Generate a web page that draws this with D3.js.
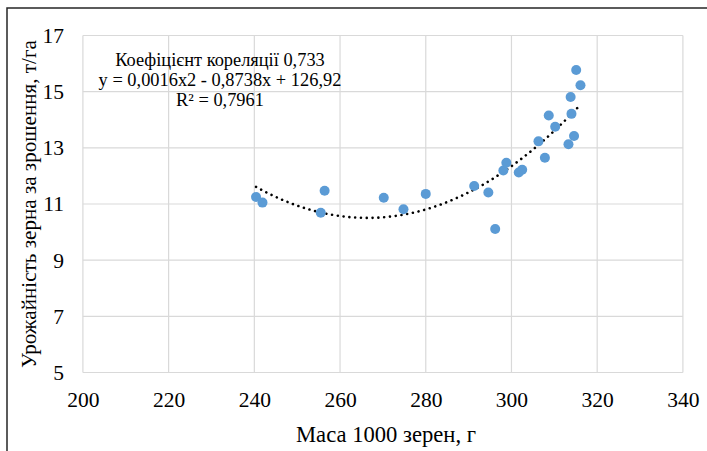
<!DOCTYPE html>
<html>
<head>
<meta charset="utf-8">
<script src="https://cdn.jsdelivr.net/npm/d3@7"></script>
<style>
html,body{margin:0;padding:0;background:#fff;}
svg{display:block;}
</style>
</head>
<body>
<svg id="chart" width="707" height="451"></svg>
<script>
// Data
const massX = [240.4, 241.9, 255.5, 256.4, 270.2, 274.8, 280.0, 291.3, 294.6, 296.2, 298.1, 298.8,
               301.7, 302.5, 306.3, 307.8, 308.7, 310.2, 313.3, 313.8, 314.0, 314.6, 315.1, 316.1];
const yieldY = [11.25, 11.05, 10.69, 11.47, 11.22, 10.81, 11.36, 11.64, 11.41, 10.11, 12.19, 12.47,
                12.12, 12.22, 13.23, 12.65, 14.15, 13.75, 13.13, 14.81, 14.21, 13.42, 15.77, 15.23];
const xTicks = [200, 220, 240, 260, 280, 300, 320, 340];
const yTicks = [5, 7, 9, 11, 13, 15, 17];
const annotationLines = ["Коефіцієнт кореляції 0,733", "y = 0,0016x2 - 0,8738x + 126,92", "R² = 0,7961"];
const xTitle = "Маса 1000 зерен, г";
const yTitle = "Урожайність зерна за зрошення, т/га";

(function () {
const FONT = "'Liberation Serif'";
const svg = d3.select("#chart");
const pLeft = 82.9, pRight = 682.9, pTop = 35.5, pBottom = 372.5;
const x = d3.scaleLinear().domain([200, 340]).range([pLeft, pRight]);
const y = d3.scaleLinear().domain([5, 17]).range([pBottom, pTop]);

// fit a text's font size so its rendered width matches a target width
function fitWidth(sel, target) {
  const node = sel.node();
  const w = node.getComputedTextLength();
  const fs = parseFloat(sel.style("font-size"));
  if (w > 0) sel.style("font-size", (fs * target / w).toFixed(2) + "px");
}

// outer chart border (top and left visible)
svg.append("path").attr("d", "M7,451 L7,8 L707,8").attr("fill", "none")
  .attr("stroke", "#262626").attr("stroke-width", 1.5);

// gridlines
const grid = svg.append("g").attr("stroke", "#d9d9d9").attr("stroke-width", 1.2);
grid.selectAll("line.v").data(xTicks).join("line").attr("class", "v")
  .attr("x1", d => x(d)).attr("x2", d => x(d)).attr("y1", pTop).attr("y2", pBottom);
grid.selectAll("line.h").data(yTicks).join("line").attr("class", "h")
  .attr("x1", pLeft).attr("x2", pRight).attr("y1", d => y(d)).attr("y2", d => y(d));

// axes labels via d3 axes
const xAxis = svg.append("g").attr("transform", `translate(0,${pBottom})`)
  .call(d3.axisBottom(x).tickValues(xTicks).tickSize(0).tickPadding(19).tickFormat(d3.format("d")));
const yAxis = svg.append("g").attr("transform", `translate(${pLeft},0)`)
  .call(d3.axisLeft(y).tickValues(yTicks).tickSize(0).tickPadding(19).tickFormat(d3.format("d")));
[xAxis, yAxis].forEach(a => {
  a.attr("font-family", null).attr("font-size", null);
  a.select(".domain").remove();
  a.selectAll("text").style("font-family", FONT).style("font-size", "21.5px").attr("fill", "#000");
});

// annotation
const ann = svg.append("g").selectAll("text").data(annotationLines).join("text")
  .attr("x", 220).attr("y", (d, i) => 65.5 + i * 20.3)
  .attr("text-anchor", "middle").style("font-family", FONT).style("font-size", "16px").text(d => d);
const eq = d3.select(ann.nodes()[1]);
fitWidth(eq, 243);
ann.style("font-size", eq.style("font-size"));

// quadratic least-squares trendline computed from data
function polyfit2(xs, ys) {
  const n = xs.length;
  const xm = d3.mean(xs);
  const S = [[0,0,0],[0,0,0],[0,0,0]], B = [0,0,0];
  for (let i = 0; i < n; i++) {
    const t = xs[i] - xm, p = [1, t, t * t];
    for (let r = 0; r < 3; r++) { B[r] += p[r] * ys[i]; for (let c = 0; c < 3; c++) S[r][c] += p[r] * p[c]; }
  }
  const M = S.map((row, r) => row.concat([B[r]]));
  for (let c = 0; c < 3; c++) {
    let piv = c;
    for (let r = c + 1; r < 3; r++) if (Math.abs(M[r][c]) > Math.abs(M[piv][c])) piv = r;
    const tmp = M[c]; M[c] = M[piv]; M[piv] = tmp;
    for (let r = 0; r < 3; r++) if (r !== c) {
      const f = M[r][c] / M[c][c];
      for (let k = c; k < 4; k++) M[r][k] -= f * M[c][k];
    }
  }
  const coef = M.map((row, r) => row[3] / row[r]);
  return v => { const t = v - xm; return coef[0] + coef[1] * t + coef[2] * t * t; };
}
const fit = polyfit2(massX, yieldY);
const ext = d3.extent(massX);
const trend = d3.range(0, 101).map(i => ext[0] + (ext[1] - ext[0]) * i / 100);
svg.append("path").datum(trend)
  .attr("d", d3.line().x(d => x(d)).y(d => y(fit(d))))
  .attr("fill", "none").attr("stroke", "#000").attr("stroke-width", 2.6)
  .attr("stroke-linecap", "round").attr("stroke-dasharray", "0.01 5.8");

// points
svg.append("g").selectAll("circle").data(massX).join("circle")
  .attr("cx", d => x(d)).attr("cy", (d, i) => y(yieldY[i])).attr("r", 5)
  .attr("fill", "#5b9bd5");

// axis titles
const xt = svg.append("text").attr("x", 386).attr("y", 442).attr("text-anchor", "middle")
  .style("font-family", FONT).style("font-size", "20px").text(xTitle);
fitWidth(xt, 180);
const yt = svg.append("text").attr("transform", "translate(36,204) rotate(-90)").attr("text-anchor", "middle")
  .style("font-family", FONT).style("font-size", "20px").text(yTitle);
fitWidth(yt, 328);
})();
</script>
</body>
</html>
